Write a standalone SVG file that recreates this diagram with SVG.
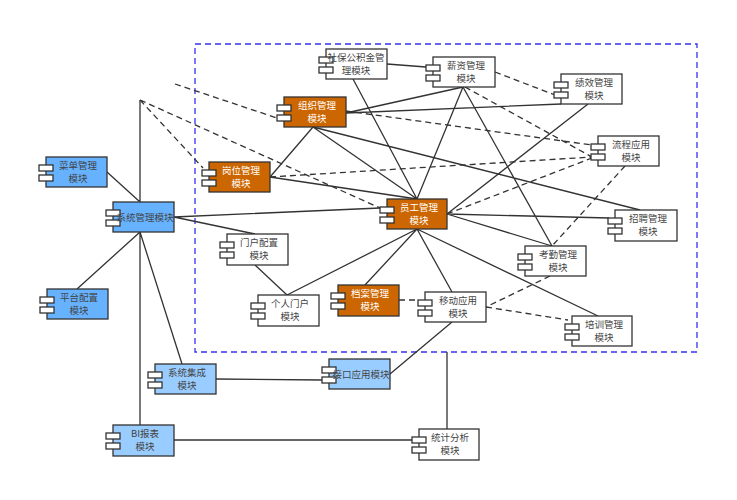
<svg xmlns="http://www.w3.org/2000/svg" width="737" height="500" viewBox="0 0 737 500">
<defs>
<style>
text{font-family:"Noto Sans CJK SC","Liberation Sans",sans-serif;font-size:9.5px;text-anchor:middle;fill:#444}
.b{stroke:#333;stroke-width:1.3;fill:#fff}
.o{fill:#CC6600}.o~text{fill:#fff}
.m{fill:#66B2FF}.l{fill:#99CCFF}
.s{stroke:#333;stroke-width:1.3;fill:none}
.d{stroke:#333;stroke-width:1.3;fill:none;stroke-dasharray:6 4}
</style>
<g id="tab"><rect x="-7" y="8" width="14" height="6" class="b"/><rect x="-7" y="18" width="14" height="6" class="b"/></g>
</defs>
<rect x="195" y="44" width="502" height="308" fill="none" stroke="#3333ee" stroke-width="1.3" stroke-dasharray="6 4"/>
<g id="connectors">
<path class="s" d="M387,64L426,67M353,79L417,199M463,87L417,199M463,87L552,246M346,113L463,87M346,113L561,104M313,127L270,177M313,127L417,199M313,127L640,210M270,177L417,199M588,104L447,214M447,214L609,218M447,214L552,246M417,229L598,316M417,229L452,292M417,229L365,285M417,229L287,295M174,217L380,208M174,217L255,234M255,265L287,295M140,232L77,289M140,232L182,364M140,232L140,425M216,379L322,380M390,374L452,322M174,440L412,440M447,352L447,429M107,172L140,202M140,100L140,202"/>
<path class="d" d="M175,84L277,118M140,100L380,208M140,100L203,168M346,111L592,145M270,177L592,157M447,214L592,158M495,72L555,95M465,87L592,157M625,166L552,246M550,276L486,307M486,307L568,320M399,300L418,300"/>
</g>
<g id="n1"><rect x="326" y="49" width="61" height="30" class="b"/><use href="#tab" x="326" y="49"/><text x="356" y="61">社保公积金管</text><text x="356" y="74">理模块</text></g>
<g id="n2"><rect x="433" y="57" width="62" height="30" class="b"/><use href="#tab" x="433" y="57"/><text x="466" y="69">薪资管理</text><text x="466" y="82">模块</text></g>
<g id="n3"><rect x="561" y="74" width="61" height="30" class="b"/><use href="#tab" x="561" y="74"/><text x="594" y="86">绩效管理</text><text x="594" y="99">模块</text></g>
<g id="n4"><rect x="598" y="136" width="61" height="30" class="b"/><use href="#tab" x="598" y="136"/><text x="631" y="148">流程应用</text><text x="631" y="161">模块</text></g>
<g id="n5"><rect x="615" y="210" width="62" height="31" class="b"/><use href="#tab" x="615" y="210"/><text x="648" y="222">招聘管理</text><text x="648" y="235">模块</text></g>
<g id="n6"><rect x="525" y="246" width="61" height="30" class="b"/><use href="#tab" x="525" y="246"/><text x="558" y="258">考勤管理</text><text x="558" y="271">模块</text></g>
<g id="n7"><rect x="572" y="316" width="60" height="30" class="b"/><use href="#tab" x="572" y="316"/><text x="604" y="328">培训管理</text><text x="604" y="341">模块</text></g>
<g id="n8"><rect x="425" y="292" width="61" height="30" class="b"/><use href="#tab" x="425" y="292"/><text x="458" y="304">移动应用</text><text x="458" y="317">模块</text></g>
<g id="n9"><rect x="387" y="199" width="60" height="30" class="b o"/><use href="#tab" x="387" y="199" style="fill:#CC6600"/><text x="419" y="211">员工管理</text><text x="419" y="224">模块</text></g>
<g id="n10"><rect x="284" y="97" width="62" height="30" class="b o"/><use href="#tab" x="284" y="97" style="fill:#CC6600"/><text x="317" y="109">组织管理</text><text x="317" y="122">模块</text></g>
<g id="n11"><rect x="209" y="162" width="61" height="30" class="b o"/><use href="#tab" x="209" y="162" style="fill:#CC6600"/><text x="241" y="174">岗位管理</text><text x="241" y="187">模块</text></g>
<g id="n12"><rect x="338" y="285" width="61" height="31" class="b o"/><use href="#tab" x="338" y="285" style="fill:#CC6600"/><text x="370" y="297">档案管理</text><text x="370" y="310">模块</text></g>
<g id="n13"><rect x="46" y="157" width="61" height="30" class="b m"/><use href="#tab" x="46" y="157" style="fill:#66B2FF"/><text x="78" y="169">菜单管理</text><text x="78" y="182">模块</text></g>
<g id="n14"><rect x="113" y="202" width="61" height="30" class="b m"/><use href="#tab" x="113" y="202" style="fill:#66B2FF"/><text x="145" y="221">系统管理模块</text></g>
<g id="n15"><rect x="47" y="289" width="61" height="30" class="b m"/><use href="#tab" x="47" y="289" style="fill:#66B2FF"/><text x="79" y="301">平台配置</text><text x="79" y="314">模块</text></g>
<g id="n16"><rect x="227" y="234" width="61" height="31" class="b"/><use href="#tab" x="227" y="234"/><text x="259" y="246">门户配置</text><text x="259" y="259">模块</text></g>
<g id="n17"><rect x="258" y="295" width="61" height="31" class="b"/><use href="#tab" x="258" y="295"/><text x="290" y="307">个人门户</text><text x="290" y="320">模块</text></g>
<g id="n18"><rect x="155" y="364" width="61" height="30" class="b l"/><use href="#tab" x="155" y="364" style="fill:#99CCFF"/><text x="187" y="376">系统集成</text><text x="187" y="389">模块</text></g>
<g id="n19"><rect x="329" y="359" width="61" height="30" class="b l"/><use href="#tab" x="329" y="359" style="fill:#99CCFF"/><text x="361" y="378">接口应用模块</text></g>
<g id="n20"><rect x="113" y="425" width="61" height="31" class="b l"/><use href="#tab" x="113" y="425" style="fill:#99CCFF"/><text x="145" y="437">BI报表</text><text x="145" y="450">模块</text></g>
<g id="n21"><rect x="419" y="429" width="60" height="31" class="b"/><use href="#tab" x="419" y="429"/><text x="450" y="441">统计分析</text><text x="450" y="454">模块</text></g>
</svg>
